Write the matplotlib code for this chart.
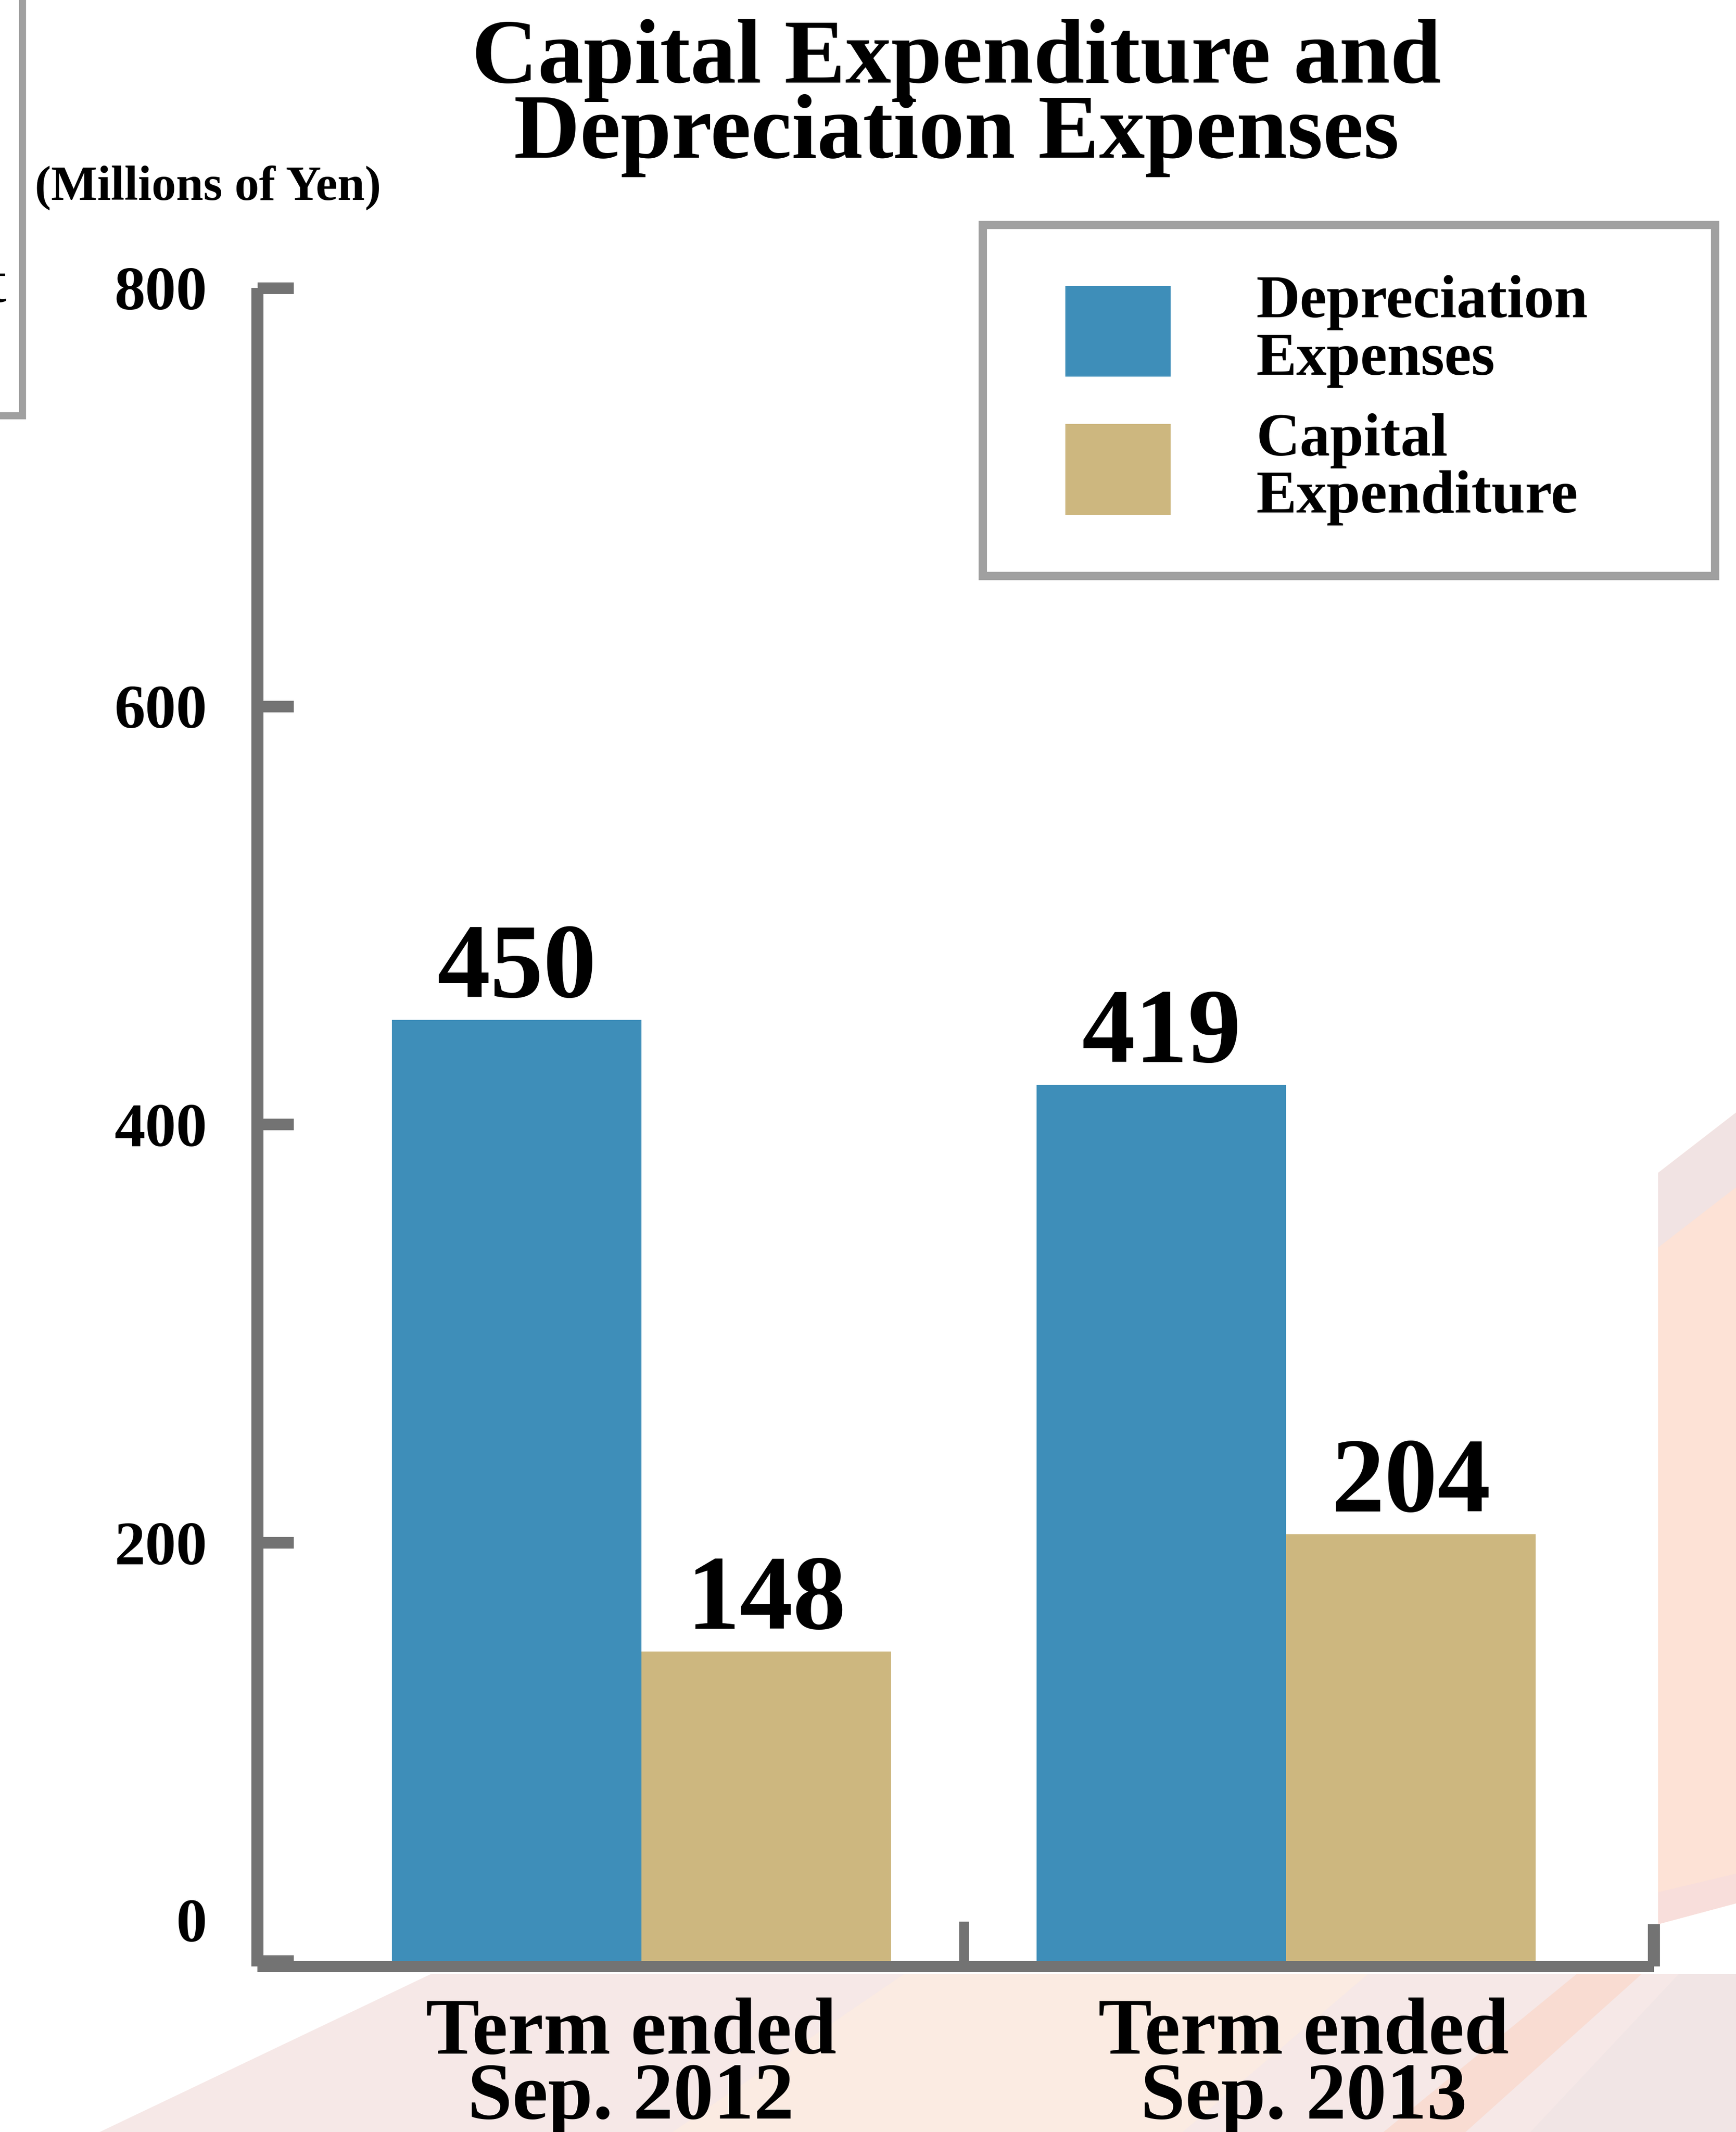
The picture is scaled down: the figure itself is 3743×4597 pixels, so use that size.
import numpy as np
import matplotlib.pyplot as plt
import matplotlib.transforms as mtransforms
from matplotlib.patches import Polygon, Rectangle
from matplotlib.lines import Line2D
from matplotlib.legend_handler import HandlerPatch


# data
terms = ['Term ended\nSep. 2012', 'Term ended\nSep. 2013']
depreciation = [450, 419]
capex = [148, 204]
series_names = ['Depreciation\nExpenses', 'Capital\nExpenditure']
yticks = [0, 200, 400, 600, 800]

blue = '#3e8eb9'
tan = '#cdb77f'
axis_grey = '#737373'
frame_grey = '#a0a0a0'

W, H = 3743, 4597          # output size in px (dpi 100)


def fx(px):
    return px / W


def fy(py):
    return 1 - py / H


def legend_box(legend, orig_handle, xdescent, ydescent, width, height, fontsize):
    # square-ish swatch, nudged right and down against the two-line label
    return Rectangle((-xdescent + 0.53 * fontsize, -0.40 * fontsize),
                     1.74 * fontsize, 1.5 * fontsize)


def first_bar(handle, orig):
    handle.update_from(orig.patches[0])


plt.rcParams['font.family'] = 'Liberation Serif'
plt.rcParams['font.weight'] = 'bold'

fig = plt.figure(figsize=(W / 100, H / 100), dpi=100)

#%% faint background swoosh (decoration)
swoosh = [
    ([(3575, 2529), (3743, 2399), (3743, 4104), (3575, 4149)], '#fde2d6'),
    ([(3575, 2529), (3743, 2399), (3743, 2560), (3575, 2690)], '#f1e3e3'),
    ([(3575, 4080), (3743, 4040), (3743, 4104), (3575, 4149)], '#f8dedb'),
    ([(215, 4597), (930, 4256), (3743, 4256), (3743, 4597)], '#f6e8e7'),
    ([(1450, 4597), (1950, 4256), (2950, 4256), (2550, 4597)], '#fbebe2'),
    ([(2983, 4597), (3400, 4256), (3540, 4256), (3160, 4597)], '#f9dcd2'),
    ([(3300, 4597), (3620, 4256), (3743, 4256), (3743, 4597)], '#f1e5e5'),
]
for pts, c in swoosh:
    fig.add_artist(Polygon([(fx(x), fy(y)) for x, y in pts], closed=True,
                           transform=fig.transFigure, facecolor=c,
                           edgecolor='none', zorder=0))

# bit of the neighbouring panel at the top left
fig.add_artist(Line2D([fx(-10), fx(48), fx(48)], [fy(896), fy(896), fy(-10)],
                      transform=fig.transFigure, color=frame_grey, lw=11,
                      solid_joinstyle='miter'))
fig.text(fx(14), fy(651), 't', ha='right', va='baseline', fontsize=96,
         fontweight='normal')

#%% chart
ax = fig.add_axes([fx(555), fy(4240), fx(3566) - fx(555), fy(621) - fy(4240)])
ax.set_facecolor('none')

x = np.arange(len(terms))
w = 0.387
b1 = ax.bar(x - w / 2, depreciation, w, color=blue, label=series_names[0])
b2 = ax.bar(x + w / 2, capex, w, color=tan, label=series_names[1])
ax.bar_label(b1, fontsize=165, padding=0)
ax.bar_label(b2, fontsize=165, padding=0)

ax.set_xlim(-0.596, 1.5705)
ax.set_ylim(-2.7, 800)

ax.spines['top'].set_visible(False)
for side, lw in [('left', 18.7), ('bottom', 17.3), ('right', 18.7)]:
    ax.spines[side].set_color(axis_grey)
    ax.spines[side].set_linewidth(lw)
    ax.spines[side].set_capstyle('butt')
ax.spines['right'].set_bounds(-2.7, 17.5)

ax.set_yticks(yticks, [str(v) for v in yticks])
ax.tick_params(axis='y', direction='in', length=56, width=18,
               color=axis_grey, labelsize=96, pad=78)
ax.set_xticks(x, terms)
ax.set_xticks([0.5], minor=True)
ax.tick_params(axis='x', which='major', length=0, labelsize=125, pad=48)
ax.tick_params(axis='x', which='minor', direction='in', length=70,
               width=15, color=axis_grey)
for lab, dx in zip(ax.get_xticklabels(), [-0.23, 0.38]):
    lab.set_linespacing(0.85)
    lab.set_transform(lab.get_transform() +
                      mtransforms.ScaledTranslation(dx, 0, fig.dpi_scale_trans))

# the "0" label sits higher than its tick
zero_lab = ax.yaxis.get_major_ticks()[0].label1
zero_lab.set_transform(zero_lab.get_transform() +
                       mtransforms.ScaledTranslation(0, 0.88, fig.dpi_scale_trans))

swatch = HandlerPatch(patch_func=legend_box, update_func=first_bar)
leg = ax.legend(loc='upper left', mode='expand',
                bbox_to_anchor=(fx(2119), fy(1238), fx(3698) - fx(2119),
                                fy(485) - fy(1238)),
                bbox_transform=fig.transFigure, borderaxespad=0,
                fontsize=94, handlelength=1.74, handleheight=0.7,
                handletextpad=1.95, borderpad=0.83, labelspacing=0.42,
                fancybox=False, framealpha=1,
                handler_map={b1: swatch, b2: swatch})
leg.get_frame().set_edgecolor(frame_grey)
leg.get_frame().set_linewidth(13)
for t in leg.get_texts():
    t.set_linespacing(1.05)

fig.text(fx(75), fy(430), '(Millions of Yen)', ha='left', va='baseline',
         fontsize=76)
fig.text(fx(2062), fy(178), 'Capital Expenditure and', ha='center',
         va='baseline', fontsize=142)
fig.text(fx(2062), fy(340), 'Depreciation Expenses', ha='center',
         va='baseline', fontsize=142)

plt.savefig('out.png', dpi=100)
